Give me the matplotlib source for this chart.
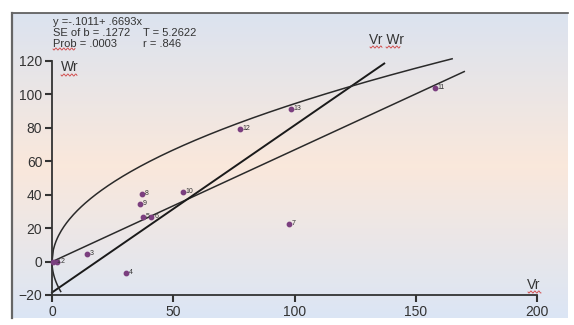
import numpy as np
import matplotlib.pyplot as plt

# =========================
# DATA
# =========================
vr = [0.5, 2.2, 14.4, 30.5, 37.5, 41.0, 97.7, 37.0, 36.3, 54.0, 158.0, 77.5, 98.6]
wr = [0.0, 0.0, 4.6, -6.8, 26.7, 26.7, 22.5, 40.5, 34.5, 41.7, 104.0, 79.4, 91.4]
labels = [str(i) for i in range(1, 14)]

reg_a, reg_b = -0.1011, 0.6693      # regression Wr on Vr
reg_xmax = 170
unit_a, unit_b = -18.5, 1.0          # unit slope line (Vr Wr)
unit_xmax = 137
v0l = 89.2                           # limiting parabola Wr^2 = Vr * V0L
par_xmax = 165

xticks = [0, 50, 100, 150, 200]
yticks = [-20, 0, 20, 40, 60, 80, 100, 120]

plt.rcParams['font.family'] = ['Liberation Sans', 'DejaVu Sans']

fig = plt.figure(figsize=(5.74, 3.25), dpi=100)
fig.patch.set_facecolor("white")

# --- background panel with vertical gradient (pixel coords) ---
bg = fig.add_axes([0, 0, 1, 1])
bg.set_xlim(0, 574)
bg.set_ylim(325, 0)
bg.axis("off")
top = np.array([0.86, 0.89, 0.94])
mid = np.array([0.98, 0.91, 0.86])
bot = np.array([0.86, 0.90, 0.96])
t = np.linspace(0, 1, 200)[:, None]
grad = np.where(t < 0.5, top + (mid - top) * (t / 0.5), mid + (bot - mid) * ((t - 0.5) / 0.5))
bg.imshow(grad[:, None, :].repeat(2, axis=1), extent=[12, 568, 318, 13], aspect="auto")
bg.plot([12, 568], [13, 13], color="#555555", lw=1.2)
bg.plot([12, 12], [13, 318], color="#666666", lw=1.6)


def squiggle(x0, x1, y):
    xs = np.linspace(x0, x1, 60)
    bg.plot(xs, y + 1.0 * np.sin((xs - x0) * 1.6), color="#d04040", lw=0.6)


squiggle(53, 75, 49)
squiggle(61, 77, 75)
squiggle(370, 382, 47)
squiggle(386, 400, 47)
squiggle(528, 541, 292)

# --- main axes ---
ax = fig.add_axes([52 / 574, 30 / 325, 485 / 574, 234 / 325])
ax.set_facecolor("none")
ax.set_xlim(0, 200)
ax.set_ylim(-20, 120)
ax.set_xticks(xticks)
ax.set_yticks(yticks)
for s in ["top", "right"]:
    ax.spines[s].set_visible(False)
for s in ["left", "bottom"]:
    ax.spines[s].set_color("#333333")
    ax.spines[s].set_linewidth(1.3)
ax.tick_params(direction="out", length=5, width=1.5, color="#333333",
               labelsize=10, labelcolor="#333333", pad=2)

# regression line
xr = np.array([0, reg_xmax])
ax.plot(xr, reg_a + reg_b * xr, color="#2a2a2a", lw=1.1, clip_on=False)
# unit slope line
xu = np.array([0, unit_xmax])
ax.plot(xu, unit_a + unit_b * xu, color="#1a1a1a", lw=1.4, clip_on=False)
# limiting parabola
xp = np.linspace(0, par_xmax, 300)
ax.plot(xp, np.sqrt(xp * v0l), color="#2a2a2a", lw=1.1, clip_on=False)
xl = np.linspace(0, 3.6, 50)
ax.plot(xl, -np.sqrt(xl * v0l), color="#2a2a2a", lw=1.1, clip_on=False)

# points
ax.scatter(vr, wr, s=10, color="#7b3f7f", zorder=3, clip_on=False)
for x, y, lab in zip(vr, wr, labels):
    ax.annotate(lab, (x, y), xytext=(2, 0), textcoords="offset points",
                fontsize=5, color="#333333", va="center")

# texts
txt = dict(fontsize=8, color="#333333", va="center")
fig.text(53 / 574, 1 - 22 / 325, "y =-.1011+ .6693x", **txt)
fig.text(53 / 574, 1 - 33 / 325, "SE of b = .1272", **txt)
fig.text(143 / 574, 1 - 33 / 325, "T = 5.2622", **txt)
fig.text(53 / 574, 1 - 44 / 325, "Prob = .0003", **txt)
fig.text(143 / 574, 1 - 44 / 325, "r = .846", **txt)
fig.text(61 / 574, 1 - 67 / 325, "Wr", fontsize=10, color="#333333", va="center")
fig.text(369 / 574, 1 - 40 / 325, "Vr Wr", fontsize=10, color="#333333", va="center")
fig.text(527 / 574, 1 - 285 / 325, "Vr", fontsize=10, color="#333333", va="center")

fig.savefig("out.png", dpi=100)
